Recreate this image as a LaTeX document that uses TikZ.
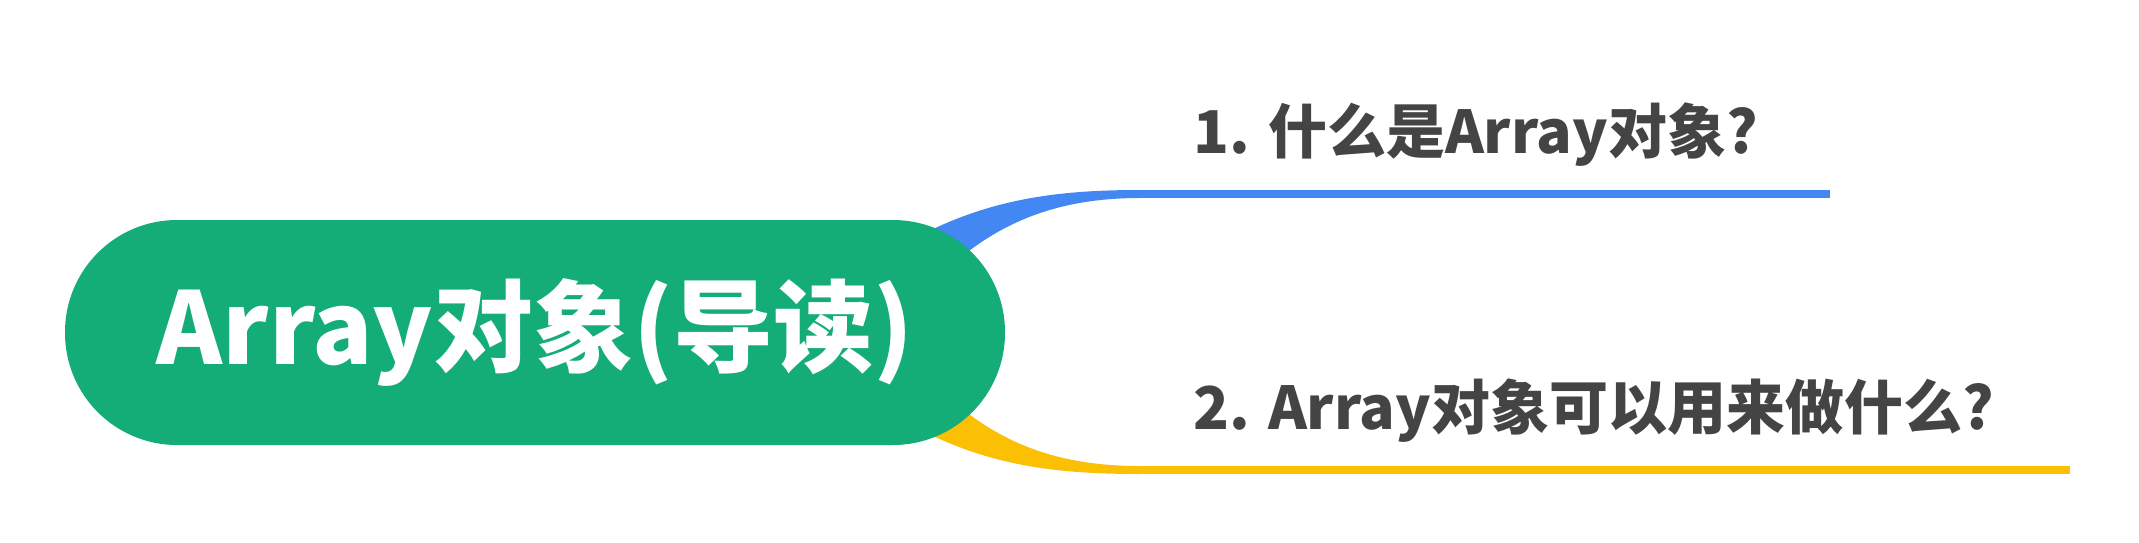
\documentclass[tikz,border=0pt]{standalone}
\usepackage{fontspec}
\usepackage{tikz}
\usetikzlibrary{calc,backgrounds}
\newfontfamily\cjk{Noto Sans CJK SC}
\definecolor{rootgreen}{HTML}{15AD77}
\definecolor{branchblue}{HTML}{4287F2}
\definecolor{branchyellow}{HTML}{FBBF03}
\definecolor{branchtext}{HTML}{444444}

\begin{document}
\begin{tikzpicture}[
  x=1pt, y=-1pt,
  root/.style={fill=rootgreen, text=white, rounded corners=112pt, minimum width=940pt, minimum height=225pt, inner sep=0pt, font=\cjk\bfseries\fontsize{100}{110}\selectfont},
  branch/.style={anchor=south west, inner xsep=0pt, inner ysep=40pt, text depth=0pt, text=branchtext, font=\cjk\bfseries\fontsize{59}{64}\selectfont},
  under/.style={line width=8pt}
]
  \useasboundingbox (0,0) rectangle (2139,542);
  \node[root] (root) at (535,332.5) {Array对象(导读)};
  \node[branch] (q1) at ($(root.east)+(188,-138.5)$) {1. 什么是Array对象?};
  \node[branch] (q2) at ($(root.east)+(188,137.5)$) {2. Array对象可以用来做什么?};
  \draw[under, branchblue] ($(q1.south west)+(-53,0)$) -- ($(q1.south east)+(72,0)$);
  \draw[under, branchyellow] ($(q2.south west)+(-53,0)$) -- ($(q2.south east)+(76,0)$);
  \begin{scope}[on background layer]
    \fill[branchblue] ($(root.east)+(-90,-94.5)$) .. controls +(75,-40) and +(-80,0) .. ($(q1.south west)+(-53,-4)$)
      -- ++(0,8) .. controls +(-70,0) and +(55,-47) .. ($(root.east)+(-50,-70.5)$) -- cycle;
    \fill[branchyellow] ($(root.east)+(-90,94.5)$) .. controls +(75,40) and +(-80,0) .. ($(q2.south west)+(-53,4)$)
      -- ++(0,-8) .. controls +(-70,0) and +(55,47) .. ($(root.east)+(-50,70.5)$) -- cycle;
  \end{scope}
\end{tikzpicture}
\end{document}
